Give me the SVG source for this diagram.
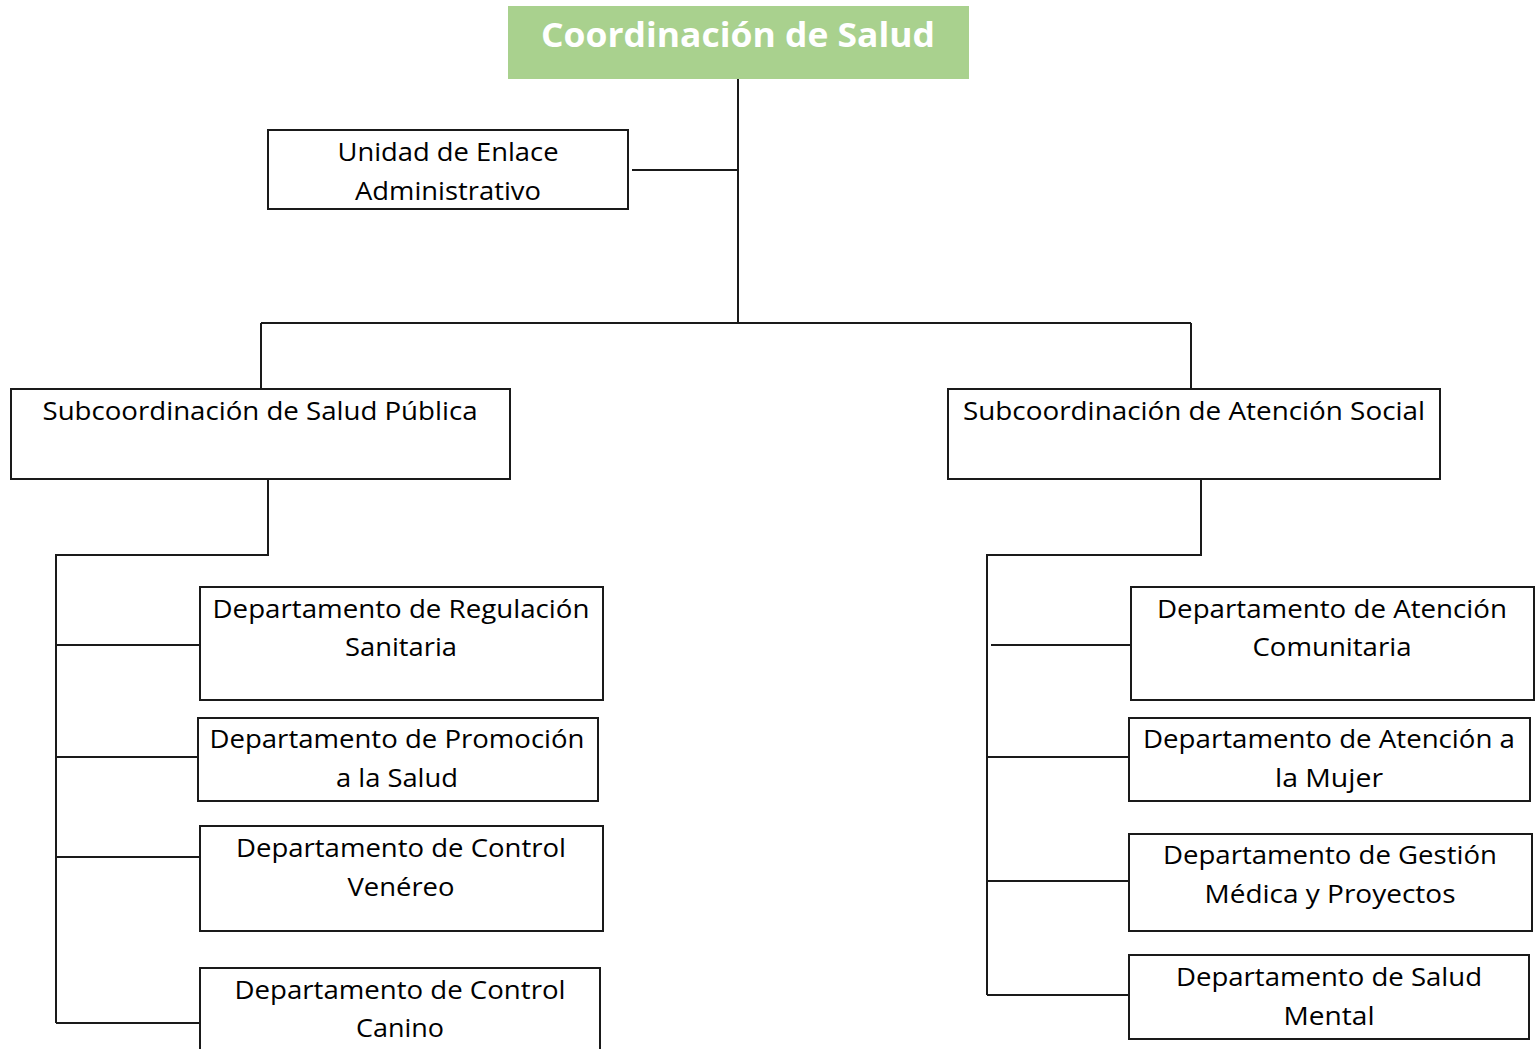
<svg xmlns="http://www.w3.org/2000/svg" width="1539" height="1049" viewBox="0 0 1539 1049">
<style>
.box{fill:#fff;stroke:#1a1a1a;stroke-width:2}
.ln{stroke:#1a1a1a;stroke-width:2;fill:none}
.t{font-family:"Open Sans","Noto Sans",sans-serif;font-size:25px;fill:#000;text-anchor:middle}
.title{font-family:"Open Sans","Noto Sans",sans-serif;font-size:34px;font-weight:bold;fill:#fff;text-anchor:middle}
</style>
<rect width="1539" height="1049" fill="#fff"/>
<g id="connectors">
<path class="ln" d="M738 79V323M632 170H738M261 323H1191M261 323V389M1191 323V389"/>
<path class="ln" d="M268 479V555H56V1023M56 645H200M57 757H198M56 857H200M56 1023H200"/>
<path class="ln" d="M1201 479V555H987V995M991 645H1131M988 757H1129M987 881H1129M987 995H1129"/>
</g>
<g id="coordinacion">
<rect x="508" y="6" width="461" height="73" fill="#A9D18E"/>
<text class="title" x="738" y="47" textLength="394" lengthAdjust="spacingAndGlyphs">Coordinación de Salud</text>
</g>
<g id="unidad">
<rect class="box" x="268" y="130" width="360" height="79"/>
<text class="t" x="448" y="161" textLength="221" lengthAdjust="spacingAndGlyphs">Unidad de Enlace</text>
<text class="t" x="448" y="200" textLength="186" lengthAdjust="spacingAndGlyphs">Administrativo</text>
</g>
<g id="sub-salud-publica">
<rect class="box" x="11" y="389" width="499" height="90"/>
<text class="t" x="260" y="420" textLength="435" lengthAdjust="spacingAndGlyphs">Subcoordinación de Salud Pública</text>
</g>
<g id="sub-atencion-social">
<rect class="box" x="948" y="389" width="492" height="90"/>
<text class="t" x="1194" y="420" textLength="462" lengthAdjust="spacingAndGlyphs">Subcoordinación de Atención Social</text>
</g>
<g id="regulacion">
<rect class="box" x="200" y="587" width="403" height="113"/>
<text class="t" x="401" y="618" textLength="377" lengthAdjust="spacingAndGlyphs">Departamento de Regulación</text>
<text class="t" x="401" y="656" textLength="112" lengthAdjust="spacingAndGlyphs">Sanitaria</text>
</g>
<g id="promocion">
<rect class="box" x="198" y="718" width="400" height="83"/>
<text class="t" x="397" y="748" textLength="375" lengthAdjust="spacingAndGlyphs">Departamento de Promoción</text>
<text class="t" x="397" y="787" textLength="122" lengthAdjust="spacingAndGlyphs">a la Salud</text>
</g>
<g id="venereo">
<rect class="box" x="200" y="826" width="403" height="105"/>
<text class="t" x="401" y="857" textLength="330" lengthAdjust="spacingAndGlyphs">Departamento de Control</text>
<text class="t" x="401" y="896" textLength="107" lengthAdjust="spacingAndGlyphs">Venéreo</text>
</g>
<g id="canino">
<rect class="box" x="200" y="968" width="400" height="100"/>
<text class="t" x="400" y="999" textLength="331" lengthAdjust="spacingAndGlyphs">Departamento de Control</text>
<text class="t" x="400" y="1037" textLength="88" lengthAdjust="spacingAndGlyphs">Canino</text>
</g>
<g id="comunitaria">
<rect class="box" x="1131" y="587" width="403" height="113"/>
<text class="t" x="1332" y="618" textLength="350" lengthAdjust="spacingAndGlyphs">Departamento de Atención</text>
<text class="t" x="1332" y="656" textLength="159" lengthAdjust="spacingAndGlyphs">Comunitaria</text>
</g>
<g id="mujer">
<rect class="box" x="1129" y="718" width="401" height="83"/>
<text class="t" x="1329" y="748" textLength="372" lengthAdjust="spacingAndGlyphs">Departamento de Atención a</text>
<text class="t" x="1329" y="787" textLength="108" lengthAdjust="spacingAndGlyphs">la Mujer</text>
</g>
<g id="gestion">
<rect class="box" x="1129" y="834" width="403" height="97"/>
<text class="t" x="1330" y="864" textLength="334" lengthAdjust="spacingAndGlyphs">Departamento de Gestión</text>
<text class="t" x="1330" y="903" textLength="251" lengthAdjust="spacingAndGlyphs">Médica y Proyectos</text>
</g>
<g id="salud-mental">
<rect class="box" x="1129" y="955" width="400" height="84"/>
<text class="t" x="1329" y="986" textLength="306" lengthAdjust="spacingAndGlyphs">Departamento de Salud</text>
<text class="t" x="1329" y="1025" textLength="91" lengthAdjust="spacingAndGlyphs">Mental</text>
</g>
</svg>
